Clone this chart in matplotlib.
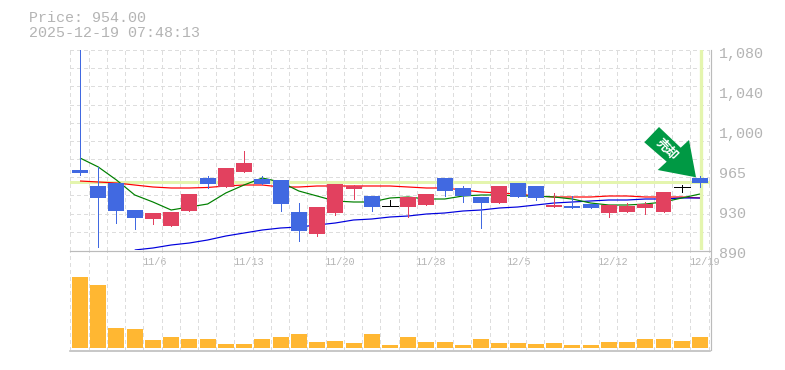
import numpy as np
import matplotlib
matplotlib.use("Agg")
import matplotlib.pyplot as plt
from matplotlib.patches import Polygon
from matplotlib.transforms import ScaledTranslation

opens = [966.0, 950.8, 953.4, 928.0, 919.5, 912.8, 927.0, 958.4, 949.9, 964.1, 957.5, 956.5, 926.1, 905.2, 925.2, 948.0, 941.3, 931.8, 930.9, 932.8, 958.4, 948.9, 940.4, 934.6, 953.7, 950.8, 930.9, 931.8, 933.7, 925.2, 926.1, 929.9, 926.1, 949.4, 958.4]
highs = [1085.0, 968.6, 953.4, 928.0, 925.2, 926.1, 943.2, 960.3, 967.9, 984.1, 960.3, 956.5, 934.6, 930.9, 952.7, 951.8, 941.3, 937.5, 940.4, 943.2, 958.4, 950.8, 940.4, 950.8, 953.7, 950.8, 944.2, 941.3, 933.7, 932.8, 934.6, 935.6, 945.1, 951.8, 960.3]
lows = [961.3, 893.1, 915.9, 910.0, 914.7, 912.8, 927.0, 948.9, 949.9, 964.1, 952.7, 927.0, 898.5, 903.3, 923.3, 938.5, 927.0, 931.8, 921.4, 932.8, 941.3, 935.6, 910.9, 934.6, 940.4, 937.5, 930.9, 929.9, 929.9, 921.4, 926.1, 924.2, 926.1, 945.1, 949.9]
closes = [963.2, 939.4, 927.0, 920.4, 925.2, 926.1, 943.2, 952.7, 967.9, 972.6, 952.7, 933.7, 908.1, 930.9, 952.7, 950.8, 930.9, 931.8, 940.4, 943.2, 946.0, 941.3, 934.6, 950.8, 940.4, 939.4, 932.8, 929.9, 929.9, 932.8, 931.8, 933.7, 945.1, 949.4, 954.0]
ma_short = [977.4, 968.9, 956.5, 942.3, 935.6, 928.0, 930.9, 933.7, 944.2, 951.8, 958.4, 954.6, 946.05, 941.3, 936.55, 935.6, 935.6, 939.4, 940.35, 938.45, 938.45, 941.3, 942.25, 942.25, 941.3, 941.3, 940.35, 938.45, 934.65, 932.75, 932.75, 933.7, 935.6, 939.4, 943.2]
ma_mid = [955.55, 954.6, 953.65, 951.75, 949.85, 948.9, 948.9, 949.4, 950.8, 951.75, 951.75, 949.85, 949.85, 950.8, 950.8, 950.8, 950.8, 950.8, 949.85, 948.9, 948.9, 947.0, 945.1, 944.15, 943.2, 941.3, 940.35, 940.35, 940.35, 941.3, 941.3, 940.35, 940.35, 940.35, 939.4]
ma_long_start = 3
ma_long = [890.0, 891.9, 894.75, 896.65, 899.5, 903.3, 906.15, 909.0, 910.9, 911.85, 913.75, 915.65, 918.5, 919.45, 921.35, 922.3, 924.2, 925.15, 927.05, 928.0, 929.9, 930.85, 932.75, 934.65, 935.6, 936.55, 937.5, 937.5, 938.45, 938.45, 939.4, 939.4]
volumes = [71, 63, 20, 19, 8, 11, 9, 9, 4, 4, 9, 11, 14, 6, 7, 5, 14, 3, 11, 6, 6, 3, 9, 5, 5, 4, 5, 3, 3, 6, 6, 9, 9, 7, 11]
price_ticks = [1080, 1042, 1004, 966, 928, 890]
price_labels = ["1,080", "1,040", "1,000", "965", "930", "890"]
date_index = [4, 9, 14, 19, 24, 29, 34]
date_labels = ["11/6", "11/13", "11/20", "11/28", "12/5", "12/12", "12/19"]
title_lines = ["Price: 954.00", "2025-12-19 07:48:13"]
current_price = 954.5

W, H = 785, 370
GRID, AXIS, TEXT = "#dddddd", "#bbbbbb", "#b4b4b4"
BLUE, RED, ORANGE = "#4169e1", "#e2415f", "#ffb732"
HILITE = "#e4f5ae"
MONO = "Liberation Mono"

n = len(opens)
xs = np.arange(n)
px = 1.0 / 100 * 72  # one pixel in points

fig = plt.figure(figsize=(W / 100, H / 100), dpi=100, facecolor="white")
ax = fig.add_axes([70 / W, 1 - 250 / H, 640 / W, 200 / H])
axv = fig.add_axes([70 / W, 1 - 350 / H, 640 / W, 100 / H])
xlim = (-0.548, 34.55)
boundaries = np.arange(n + 1) - 0.53

for a in (ax, axv):
    a.set_xlim(xlim)
    a.set_facecolor("none")
    a.vlines(boundaries, 0, 1, transform=a.get_xaxis_transform(), color=GRID, lw=px,
             linestyles=(0, (3, 3)), zorder=1, antialiased=False)
    for s in a.spines.values():
        s.set_visible(False)

ax.set_ylim(890, 1080)
ax.hlines(np.linspace(890, 1080, 12), 0, 1, transform=ax.get_yaxis_transform(), color=GRID, lw=px,
          linestyles=(0, (3, 3)), zorder=1, antialiased=False)
ax.axhline(current_price, color=HILITE, lw=3 * px, zorder=2)
ax.axvline(34.04, color=HILITE, lw=3.3 * px, zorder=2)

# moving averages
kw = dict(lw=1.2 * px, zorder=3, antialiased=True, solid_capstyle="butt", solid_joinstyle="miter")
ax.plot(xs, ma_mid, color="#ff0000", **kw)
ax.plot(xs[ma_long_start:], ma_long, color="#0000dd", **kw)
ax.plot(xs, ma_short, color="#008000", **kw)

# candlesticks
for i in range(n):
    o, h, l, c = opens[i], highs[i], lows[i], closes[i]
    col = "black" if o == c else (RED if c > o else BLUE)
    ax.vlines(i, l, h, color=col, lw=px, zorder=4, antialiased=False)
    if o == c:
        ax.hlines(o, i - 0.44, i + 0.44, color=col, lw=px, zorder=5, antialiased=False)
    else:
        ax.bar(i, abs(c - o), bottom=min(o, c), width=0.877, color=col, lw=0, zorder=5, antialiased=False)

ax.set_yticks(price_ticks, price_labels)
ax.yaxis.tick_right()
ax.tick_params(axis="y", length=0, pad=6.6, labelsize=10.8, labelcolor=TEXT)
ax.set_xticks(np.array(date_index) - 0.53, date_labels)
ax.tick_params(axis="x", length=0, pad=5.0, labelsize=7.3, labelcolor=TEXT)
for lab in ax.get_yticklabels():
    lab.set_fontfamily(MONO)
    lab.set_transform(lab.get_transform() + ScaledTranslation(0, -2.5 / 100, fig.dpi_scale_trans))
for lab in ax.get_xticklabels():
    lab.set_fontfamily(MONO)
    lab.set_horizontalalignment("left")
    lab.set_transform(lab.get_transform() + ScaledTranslation(-1.5 / 100, 0, fig.dpi_scale_trans))

# volume panel
axv.set_ylim(-2, 98)
axv.bar(xs, volumes, width=0.877, color=ORANGE, lw=0, zorder=3, antialiased=False)
axv.set_xticks([])
axv.set_yticks([])
axv.patch.set_visible(False)

# frame lines
fig.add_artist(plt.Line2D([70 / W, 710 / W], [1 - 250.5 / H] * 2, color=AXIS, lw=1.2 * px))
fig.add_artist(plt.Line2D([70 / W, 710 / W], [1 - 350.5 / H] * 2, color=AXIS, lw=1.6 * px))
fig.add_artist(plt.Line2D([710.5 / W] * 2, [1 - 50 / H, 1 - 350 / H], color=AXIS, lw=1.2 * px))

# title
for y, line in zip((18, 33), title_lines):
    fig.text(29 / W, 1 - y / H, line, family=MONO, fontsize=10.8, color=TEXT, ha="left", va="center")

# signal arrow
arrow_px = [(659, 127), (680.7, 147.7), (689, 140), (696, 177.3), (657.7, 170), (666.7, 161.7), (644.3, 142.3)]
fig.add_artist(Polygon([(x / W, 1 - y / H) for x, y in arrow_px], closed=True, transform=fig.transFigure,
                       facecolor="#009944", edgecolor="none", zorder=10))
fig.text(666.5 / W, 1 - 150 / H, "売却", family=["Noto Sans CJK JP", "DejaVu Sans"], fontsize=9, fontweight="bold",
         color="white", rotation=-45, ha="center", va="center", rotation_mode="anchor", zorder=11)

fig.savefig("out.png", dpi=100)
